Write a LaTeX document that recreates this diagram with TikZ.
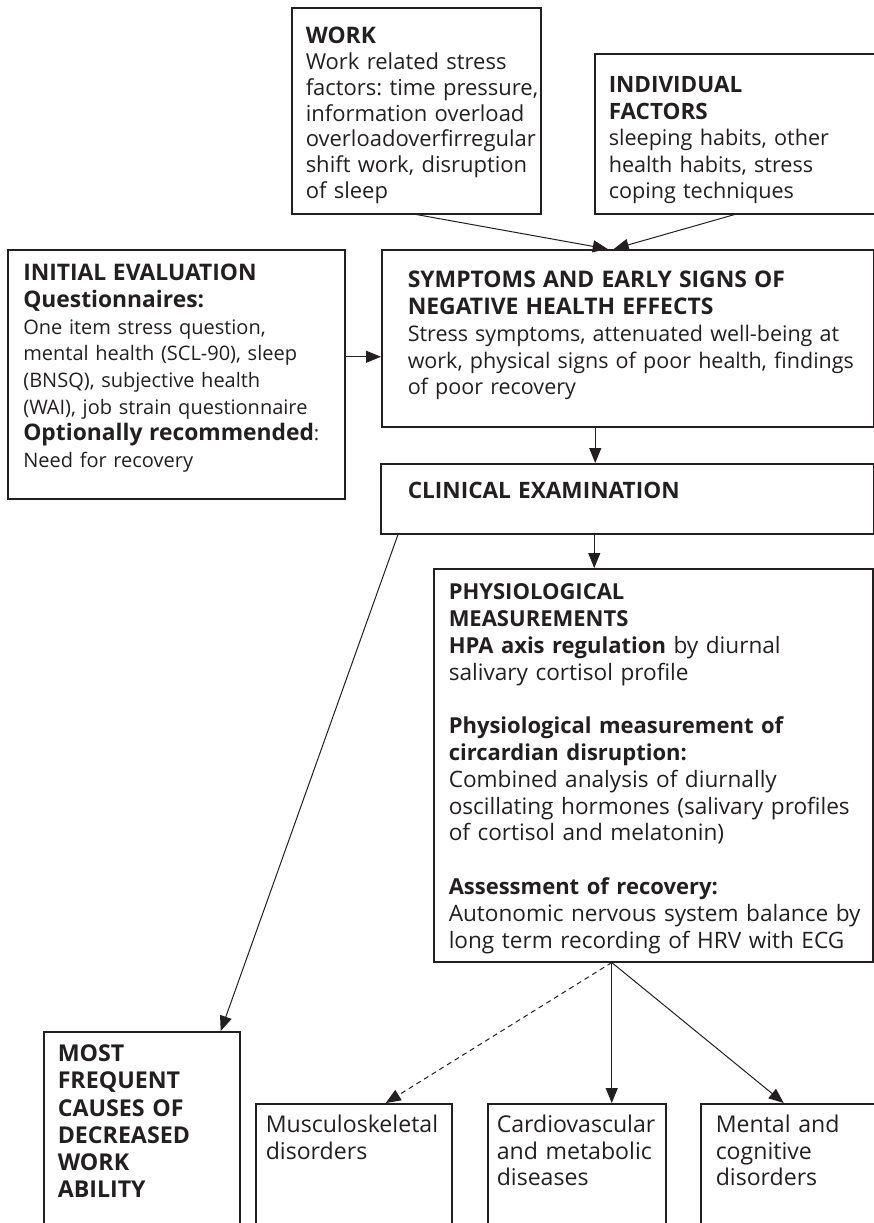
\documentclass[tikz,border=0pt]{standalone}
\usepackage{fontspec}
\setmainfont{Open Sans}
\usepackage{tikz}
\usetikzlibrary{arrows.meta}
\definecolor{ink}{RGB}{35,31,32}
\frenchspacing
\hyphenpenalty=10000
\exhyphenpenalty=10000
% box text with its left inset, heading in its own size
\newcommand{\boxtext}[2]{\leftskip=#1\relax #2\par}
\newcommand{\hd}[2]{{\fontsize{#1}{13.3}\selectfont\bfseries #2}}

\begin{document}
\begin{tikzpicture}[x=0.5pt,y=-0.5pt]
		\tikzstyle{BoxStyle}=[draw=ink,line width=0.75pt,anchor=north west,inner sep=0pt,align=left,text=ink]
		\tikzstyle{EdgeStyle}=[draw=ink,line width=0.5pt,-{Triangle[length=7.5pt,width=6pt]}]
		\useasboundingbox (0,0) rectangle (874,1223);
		\clip (0,0) rectangle (874,1223);
		% causes
		\node[BoxStyle,text width=124.5pt,text height=18pt,text depth=85pt,font=\fontsize{11}{12.9}\selectfont] (work) at (291,7)
		{\boxtext{7pt}{\hd{11.4}{WORK}\\Work related stress\\factors: time pressure,\\information overload\\overloadoverfirregular\\shift work, disruption\\of sleep}};
		\node[BoxStyle,text width=140pt,text height=19.5pt,text depth=60.5pt,font=\fontsize{10.8}{13.25}\selectfont] (indiv) at (594,53)
		{\boxtext{7pt}{\hd{11.25}{INDIVIDUAL}\\\hd{11.25}{FACTORS}\\sleeping habits, other\\health habits, stress\\coping techniques}};
		\node[BoxStyle,text width=168.5pt,text height=15.5pt,text depth=109pt,font=\fontsize{10}{13.35}\selectfont] (init) at (7,249)
		{\boxtext{7.8pt}{\hd{11.4}{INITIAL EVALUATION}\\\hd{11.4}{Questionnaires:}\\One item stress question,\\mental health (SCL-90), sleep\\(BNSQ), subjective health\\(WAI), job strain questionnaire\\\hd{11.4}{Optionally recommended}:\\Need for recovery}};
		\node[BoxStyle,text width=246pt,text height=19pt,text depth=69.5pt,font=\fontsize{10.75}{13.4}\selectfont] (symp) at (381,249)
		{\boxtext{13pt}{\hd{11.45}{SYMPTOMS AND EARLY SIGNS OF}\\\hd{11.45}{NEGATIVE HEALTH EFFECTS}\\Stress symptoms, attenuated well-being at\\work, physical signs of poor health, findings\\of poor recovery}};
		\node[BoxStyle,text width=246.5pt,text height=17.5pt,text depth=17.5pt,font=\fontsize{10.75}{13.4}\selectfont] (clin) at (380,463)
		{\boxtext{13.5pt}{\hd{11.3}{CLINICAL EXAMINATION}}};
		\node[BoxStyle,text width=219.5pt,text height=15.5pt,text depth=181pt,font=\fontsize{11.3}{13.4}\selectfont] (physio) at (433,568)
		{\boxtext{7.5pt}{\hd{11}{PHYSIOLOGICAL}\\\hd{11}{MEASUREMENTS}\\\hd{11}{HPA axis regulation} by diurnal\\salivary cortisol profile\\[13.4pt]
		\hd{11}{Physiological measurement of}\\\hd{11}{circardian disruption:}\\Combined analysis of diurnally\\oscillating hormones (salivary profiles\\of cortisol and melatonin)\\[13.4pt]
		\hd{11}{Assessment of recovery:}\\Autonomic nervous system balance by\\long term recording of HRV with ECG}};
		% outcomes (open at the bottom)
		\node[BoxStyle,text width=98pt,text height=15pt,text depth=90pt,font=\fontsize{11.6}{13.6}\selectfont] (most) at (43,1031)
		{\boxtext{7pt}{\hd{11.6}{MOST}\\\hd{11.6}{FREQUENT}\\\hd{11.6}{CAUSES OF}\\\hd{11.6}{DECREASED}\\\hd{11.6}{WORK}\\\hd{11.6}{ABILITY}}};
		\node[BoxStyle,text width=98pt,text height=14.5pt,text depth=55.5pt,font=\fontsize{11.55}{13.25}\selectfont] (musc) at (255,1103)
		{\boxtext{5pt}{Musculoskeletal\\disorders}};
		\node[BoxStyle,text width=89pt,text height=14.5pt,text depth=55.5pt,font=\fontsize{11.55}{13.25}\selectfont] (cardio) at (487,1103)
		{\boxtext{4.5pt}{Cardiovascular\\and metabolic\\diseases}};
		\node[BoxStyle,text width=87pt,text height=14.5pt,text depth=55.5pt,font=\fontsize{11.55}{13.25}\selectfont] (mental) at (700,1103)
		{\boxtext{7.5pt}{Mental and\\cognitive\\disorders}};
		\coordinate (hub) at ([xshift=-20.75pt]physio.south);
		% connectors
		\draw[EdgeStyle] (work.south) -- ([xshift=-10pt]symp.north);
		\draw[EdgeStyle] (indiv.south) -- ([xshift=-7pt]symp.north);
		\draw[EdgeStyle] ([yshift=8.75pt]init.east) -- ([yshift=8.75pt]init.east -| symp.west);
		\draw[EdgeStyle] ([xshift=-16.25pt]symp.south) -- ([xshift=-16.25pt]symp.south |- clin.north);
		\draw[EdgeStyle] ([xshift=-16.5pt]clin.south) -- ([xshift=-16.5pt]clin.south |- physio.north);
		\draw[EdgeStyle] ([xshift=9pt]clin.south west) -- ([xshift=39.5pt]most.north);
		\draw[EdgeStyle,dash pattern=on 2.5pt off 2pt] (hub) -- ([xshift=16pt]musc.north);
		\draw[EdgeStyle] (hub) -- (hub |- cardio.north);
		\draw[EdgeStyle] (hub) -- ([xshift=-2pt]mental.north);
	\end{tikzpicture}
\end{document}
